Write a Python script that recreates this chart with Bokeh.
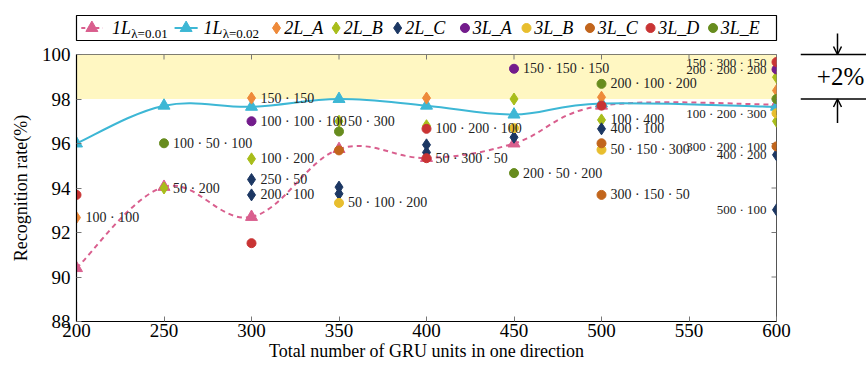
import numpy as np
from bokeh.plotting import figure
from bokeh.models import (Range1d, FixedTicker, Arrow, OpenHead, BoxAnnotation)
from bokeh.layouts import row, column
from bokeh.embed import file_html
from bokeh.resources import INLINE
from bokeh.core.properties import value

FONT = "Liberation Serif"

# ---------------- data ----------------
x_ticks = [200, 250, 300, 350, 400, 450, 500, 550, 600]
y_ticks = [88, 90, 92, 94, 96, 98, 100]
band_lo, band_hi = 98, 100

x_1L = [200, 250, 300, 350, 400, 450, 500, 600]
y_1L_001 = [90.4, 94.05, 92.7, 95.75, 95.35, 96.0, 97.7, 97.75]
y_1L_002 = [96.0, 97.7, 97.65, 98.0, 97.7, 97.3, 97.8, 97.65]

x_2L_A = [200, 300, 400, 500, 600]
y_2L_A = [92.67, 98.04, 98.04, 98.08, 98.38]
lab_2L_A = ["100 · 100", "150 · 150", "", "", ""]

x_2L_B = [250, 300, 350, 400, 450, 500, 600, 600]
y_2L_B = [94.0, 95.31, 97.0, 96.8, 98.0, 97.06, 98.98, 97.0]
lab_2L_B = ["50 · 200", "100 · 200", "50 · 300", "", "", "100 · 400", "", ""]

x_2L_C = [300, 300, 350, 350, 400, 400, 450, 500, 600, 600]
y_2L_C = [94.38, 93.69, 94.04, 93.74, 95.94, 95.6, 96.28, 96.66, 95.49, 93.02]
lab_2L_C = ["250 · 50", "200 · 100", "", "", "", "", "", "400 · 100",
            "400 · 200", "500 · 100"]

x_3L_A = [300, 450, 600]
y_3L_A = [97.0, 99.36, 99.33]
lab_3L_A = ["100 · 100 · 100", "150 · 150 · 150", "200 · 200 · 200"]

x_3L_B = [350, 450, 500, 600]
y_3L_B = [93.33, 96.69, 95.72, 97.36]
lab_3L_B = ["50 · 100 · 200", "", "50 · 150 · 300", "100 · 200 · 300"]

x_3L_C = [350, 500, 500, 600]
y_3L_C = [95.69, 96.01, 93.69, 95.87]
lab_3L_C = ["", "", "300 · 150 · 50", "300 · 200 · 100"]

x_3L_D = [200, 300, 400, 400, 500, 600]
y_3L_D = [93.69, 91.52, 96.66, 95.34, 97.7, 99.66]
lab_3L_D = ["", "", "100 · 200 · 100", "50 · 300 · 50", "", "150 · 300 · 150"]

x_3L_E = [250, 350, 450, 500, 600]
y_3L_E = [96.01, 96.54, 94.67, 98.68, 98.0]
lab_3L_E = ["100 · 50 · 100", "", "200 · 50 · 200", "200 · 100 · 200", ""]

# ---------------- styles ----------------
C_001 = "#D95F8E"
C_002 = "#3DB7D5"
C_2A, C_2B, C_2C = "#EE8A3A", "#A8BD1A", "#1C3763"
C_3A, C_3B, C_3C, C_3D, C_3E = "#731C8C", "#E8BE2E", "#C2651C", "#C93434", "#678C1E"

DIA, CIR, TRI = 12, 9, 12

diam_series = [(x_2L_A, y_2L_A, lab_2L_A, C_2A), (x_2L_B, y_2L_B, lab_2L_B, C_2B),
               (x_2L_C, y_2L_C, lab_2L_C, C_2C)]
circ_series = [(x_3L_A, y_3L_A, lab_3L_A, C_3A), (x_3L_B, y_3L_B, lab_3L_B, C_3B),
               (x_3L_C, y_3L_C, lab_3L_C, C_3C), (x_3L_D, y_3L_D, lab_3L_D, C_3D),
               (x_3L_E, y_3L_E, lab_3L_E, C_3E)]


def smooth_bezier(xs, ys, t=0.1833):
    xs = np.asarray(xs, float)
    ys = np.asarray(ys, float)
    n = len(xs)
    out = dict(x0=[], y0=[], x1=[], y1=[], cx0=[], cy0=[], cx1=[], cy1=[])
    for i in range(n - 1):
        ip = max(i - 1, 0)
        inn = min(i + 2, n - 1)
        out["x0"].append(xs[i]); out["y0"].append(ys[i])
        out["x1"].append(xs[i + 1]); out["y1"].append(ys[i + 1])
        out["cx0"].append(xs[i] + t * (xs[i + 1] - xs[ip]))
        out["cy0"].append(ys[i] + t * (ys[i + 1] - ys[ip]))
        out["cx1"].append(xs[i + 1] - t * (xs[inn] - xs[i]))
        out["cy1"].append(ys[i + 1] - t * (ys[inn] - ys[i]))
    return out


# ---------------- main plot ----------------
FRAME_W, FRAME_H = 701, 267
ppu = FRAME_H / (y_ticks[-1] - y_ticks[0])
ppx = FRAME_W / (x_ticks[-1] - x_ticks[0])
p = figure(width=800, height=323, x_range=Range1d(x_ticks[0], x_ticks[-1]),
           y_range=Range1d(y_ticks[0], y_ticks[-1]), output_backend="svg",
           toolbar_location=None, min_border_left=76, min_border_right=23,
           min_border_top=12, min_border_bottom=44)
p.xgrid.visible = False
p.ygrid.visible = False
p.outline_line_color = "#555555"
p.outline_line_width = 1.0
p.background_fill_color = "white"
p.add_layout(BoxAnnotation(bottom=band_lo, top=band_hi, fill_color="#FFF7C2",
                           fill_alpha=1.0, line_alpha=0, level="underlay"))

for ax, ticks in ((p.xaxis[0], x_ticks), (p.yaxis[0], y_ticks)):
    ax.ticker = FixedTicker(ticks=ticks)
    ax.major_tick_in = 5
    ax.major_tick_out = 0
    ax.minor_tick_in = 0
    ax.minor_tick_out = 0
    ax.axis_line_color = "black"
    ax.axis_line_width = 1.2
    ax.major_tick_line_color = "#777777"
    ax.major_label_text_font = FONT
    ax.major_label_text_font_size = "19px"
    ax.major_label_text_color = "black"
    ax.axis_label_text_font = FONT
    ax.axis_label_text_font_size = "18px"
    ax.axis_label_text_font_style = "normal"
    ax.axis_label_text_color = "black"
p.xaxis.axis_label = "Total number of GRU units in one direction"
p.yaxis.axis_label = "Recognition rate(%)"
p.xaxis.major_label_standoff = 2
p.xaxis.axis_label_standoff = 1
p.yaxis.major_label_standoff = 6
p.yaxis.axis_label_standoff = 8

# inward ticks on the top and right sides of the box
p.segment(x0=x_ticks, y0=[y_ticks[-1]] * len(x_ticks), x1=x_ticks,
          y1=[y_ticks[-1] - 5 / ppu] * len(x_ticks), line_color="#777777", line_width=1)
p.segment(x0=[x_ticks[-1]] * len(y_ticks), y0=y_ticks,
          x1=[x_ticks[-1] - 5 / ppx] * len(y_ticks), y1=y_ticks,
          line_color="#777777", line_width=1)

# smooth lines
b1 = smooth_bezier(x_1L, y_1L_001)
p.bezier(line_color=C_001, line_width=2, line_dash="5 4", **b1)
p.scatter(x_1L, y_1L_001, marker="triangle", size=TRI, color=C_001)
b2 = smooth_bezier(x_1L, y_1L_002)
p.bezier(line_color=C_002, line_width=2, **b2)
p.scatter(x_1L, y_1L_002, marker="triangle", size=TRI, color=C_002)

x_edge = max(x_ticks)


def draw_series(xs, ys, labs, color, marker, size):
    p.scatter(xs, ys, marker=marker, size=size, color=color)
    lx = [x for x, l in zip(xs, labs) if l and x < x_edge]
    ly = [y for x, y, l in zip(xs, ys, labs) if l and x < x_edge]
    lt = [l for x, l in zip(xs, labs) if l and x < x_edge]
    rx = [x for x, l in zip(xs, labs) if l and x >= x_edge]
    ry = [y for x, y, l in zip(xs, ys, labs) if l and x >= x_edge]
    rt = [l for x, l in zip(xs, labs) if l and x >= x_edge]
    if lt:
        p.text(lx, ly, text=lt, x_offset=9, text_align="left", text_baseline="middle",
               text_font=value(FONT), text_font_size="14px", text_color="#222222")
    if rt:
        p.text(rx, ry, text=rt, x_offset=-10, text_align="right", text_baseline="middle",
               text_font=value(FONT), text_font_size="13px", text_color="#222222")


for xs, ys, labs, c in diam_series:
    draw_series(xs, ys, labs, c, "diamond", DIA)
for xs, ys, labs, c in circ_series:
    draw_series(xs, ys, labs, c, "circle", CIR)

# ---------------- legend (separate strip) ----------------
lg = figure(width=800, height=42, x_range=Range1d(0, 728), y_range=Range1d(0, 25),
            output_backend="svg", toolbar_location=None, x_axis_type=None,
            y_axis_type=None, min_border_left=48, min_border_right=24,
            min_border_top=15, min_border_bottom=2)
lg.xgrid.visible = False
lg.ygrid.visible = False
lg.outline_line_color = "black"
lg.outline_line_width = 1.2
yc = 12.5
lg.line([5, 27], [yc, yc], line_color=C_001, line_width=2, line_dash="4 3")
lg.scatter([16], [yc], marker="triangle", size=TRI, color=C_001)
lg.line([102, 126], [yc, yc], line_color=C_002, line_width=2)
lg.scatter([114], [yc], marker="triangle", size=TRI, color=C_002)
lg.text([37, 132], [yc, yc], text=["1L", "1L"], text_align="left", text_baseline="middle",
        text_font=value(FONT), text_font_size="18px", text_font_style="italic",
        text_color="black")
lg.text([57, 152], [yc, yc], text=["λ=0.01", "λ=0.02"], text_align="left",
        text_baseline="middle", y_offset=5, text_font=value(FONT),
        text_font_size="13px", text_color="black")
names = ["2L_A", "2L_B", "2L_C", "3L_A", "3L_B", "3L_C", "3L_D", "3L_E"]
cols = [C_2A, C_2B, C_2C, C_3A, C_3B, C_3C, C_3D, C_3E]
marks = ["diamond"] * 3 + ["circle"] * 5
mx = [208, 270, 334, 404, 468, 534, 597, 662]
for n_, c, m, x in zip(names, cols, marks, mx):
    lg.scatter([x], [yc], marker=m, size=DIA if m == "diamond" else CIR, color=c)
lg.text([x + 8 for x in mx], [yc] * len(mx), text=names, text_align="left",
        text_baseline="middle", text_font=value(FONT), text_font_size="18px",
        text_font_style="italic", text_color="black")

# ---------------- right annotation ----------------
r = figure(width=66, height=365, x_range=Range1d(0, 66),
           y_range=Range1d(y_ticks[0] - 44 / ppu, y_ticks[-1] + 54 / ppu),
           output_backend="svg", toolbar_location=None, x_axis_type=None,
           y_axis_type=None, min_border=0)
r.xgrid.visible = False
r.ygrid.visible = False
r.outline_line_color = None
r.segment(x0=[0, 0], y0=[band_hi, band_lo], x1=[66, 66], y1=[band_hi, band_lo],
          line_color="black", line_width=1.3)
r.add_layout(Arrow(end=OpenHead(size=8, line_width=1.5, line_color="black"),
                   x_start=37, y_start=band_hi + 21 / ppu, x_end=37, y_end=band_hi,
                   line_width=1.5, line_color="black"))
r.add_layout(Arrow(end=OpenHead(size=8, line_width=1.5, line_color="black"),
                   x_start=37, y_start=band_lo - 24 / ppu, x_end=37, y_end=band_lo,
                   line_width=1.5, line_color="black"))
r.text([40], [(band_lo + band_hi) / 2], text=["+2%"], text_align="center",
       text_baseline="middle", text_font=value(FONT), text_font_size="25px",
       text_color="black")

layout = row(column(lg, p), r)
open("out.html", "w").write(file_html(layout, INLINE))
